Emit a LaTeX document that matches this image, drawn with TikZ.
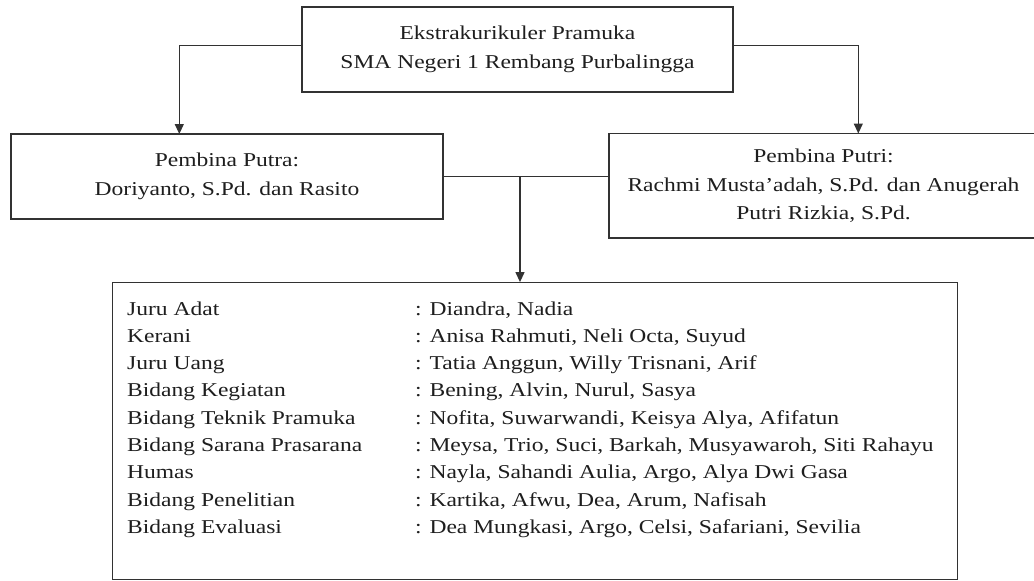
\documentclass[tikz,border=0pt]{standalone}
\usepackage{fontspec}
\setmainfont{Liberation Serif}[FakeStretch=1.2]
\usetikzlibrary{arrows.meta,calc}
\definecolor{ink}{RGB}{30,30,30}
\definecolor{rule}{RGB}{50,50,50}
\begin{document}
\begin{tikzpicture}[x=1pt,y=-1pt,
  box/.style={draw=rule,line width=1.2pt,rectangle,inner sep=0pt,align=center,text=ink,
    font=\fontsize{19.6}{28.5}\selectfont},
  conn/.style={draw=rule,line width=1.2pt},
  arr/.style={conn,-{Triangle[length=10pt,width=9pt]}},
  item/.style={inner sep=0pt,anchor=base west,text=ink,font=\fontsize{19.6}{27.3}\selectfont}]
\useasboundingbox[fill=white] (0,0) rectangle (1034,581);
\node[box,minimum width=431pt,minimum height=85pt] (top) at (517.5,49.5)
  {Ekstrakurikuler Pramuka\\SMA Negeri 1 Rembang Purbalingga};
\node[box,minimum width=432pt,minimum height=85pt] (putra) at (227,176.5)
  {Pembina Putra:\\Doriyanto, S.Pd. dan Rasito};
\node[box,minimum width=429pt,minimum height=104.5pt] (putri) at (823.5,185.75)
  {Pembina Putri:\\Rachmi Musta'adah, S.Pd. dan Anugerah\\Putri Rizkia, S.Pd.};
\node[box,minimum width=845.4pt,minimum height=296.8pt] (bottom) at (535,431.1) {};
\coordinate (pa) at (179.3,134);
\coordinate (pi) at (858.3,133.5);
\coordinate (mid) at (520,177);
\draw[arr] ([yshift=3.8pt]top.west) -| (pa);
\draw[arr] ([yshift=3.8pt]top.east) -| (pi);
\draw[conn] (putra.east) -- (putra.east -| putri.west);
\draw[arr] (mid) -- (mid |- bottom.north);
\foreach \i/\a/\b in {
  0/{Juru Adat}/{: Diandra, Nadia},
  1/{Kerani}/{: Anisa Rahmuti, Neli Octa, Suyud},
  2/{Juru Uang}/{: Tatia Anggun, Willy Trisnani, Arif},
  3/{Bidang Kegiatan}/{: Bening, Alvin, Nurul, Sasya},
  4/{Bidang Teknik Pramuka}/{: Nofita, Suwarwandi, Keisya Alya, Afifatun},
  5/{Bidang Sarana Prasarana}/{: Meysa, Trio, Suci, Barkah, Musyawaroh, Siti Rahayu},
  6/{Humas}/{: Nayla, Sahandi Aulia, Argo, Alya Dwi Gasa},
  7/{Bidang Penelitian}/{: Kartika, Afwu, Dea, Arum, Nafisah},
  8/{Bidang Evaluasi}/{: Dea Mungkasi, Argo, Celsi, Safariani, Sevilia}}{
  \node[item] (k\i) at (127,315+27.3*\i) {\a};
  \node[item] (v\i) at (415,315+27.3*\i) {\b};
}
\end{tikzpicture}
\end{document}
